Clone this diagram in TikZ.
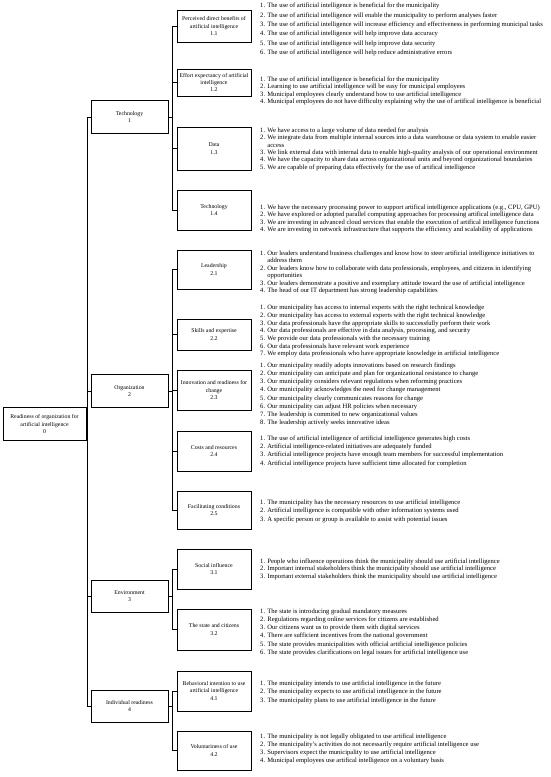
\documentclass[tikz,border=0pt]{standalone}
\usepackage{fontspec}
\setmainfont{Liberation Serif}
\begin{document}
\begin{tikzpicture}[x=1pt,y=-1pt,
  box/.style={draw=black, line width=0.6pt, align=center, inner sep=0pt, font=\fontsize{5.8}{7.4}\selectfont},
  lvtwo/.style={box, minimum width=74pt},
  lvone/.style={box, minimum width=77pt},
  items/.style={anchor=north west, inner sep=0pt, align=left, font=\fontsize{6.6}{#1}\selectfont},
  conn/.style={line width=0.6pt}]
\useasboundingbox (0,0) rectangle (550,777);

% root and level one
\node[box, minimum width=83pt, minimum height=33pt] (r0) at (44.5,424) {Readiness of organization for\\artificial intelligence\\0};
\node[lvone, minimum height=33pt] (t1) at (129.5,117) {Technology\\1};
\node[lvone, minimum height=33pt] (t2) at (129.5,391) {Organization\\2};
\node[lvone, minimum height=32pt] (t3) at (129.5,596) {Environment\\3};
\node[lvone, minimum height=32pt] (t4) at (129.5,706) {Individual readiness\\4};

% level two
\node[lvtwo, minimum height=32pt] (b11) at (214,26) {Perceived direct benefits of\\artificial intelligence\\1.1};
\node[lvtwo, minimum height=27pt] (b12) at (214,82.5) {Effort expectancy of artificial\\intelligence\\1.2};
\node[lvtwo, minimum height=43pt] (b13) at (214,148.5) {Data\\1.3};
\node[lvtwo, minimum height=40pt] (b14) at (214,210) {Technology\\1.4};
\node[lvtwo, minimum height=39pt] (b21) at (214,269.5) {Leadership\\2.1};
\node[lvtwo, minimum height=31pt] (b22) at (214,334.5) {Skills and expertise\\2.2};
\node[lvtwo, minimum height=40pt] (b23) at (214,390) {Innovation and readiness for\\change\\2.3};
\node[lvtwo, minimum height=40pt] (b24) at (214,451) {Costs and resources\\2.4};
\node[lvtwo, minimum height=38pt] (b25) at (214,510) {Facilitating conditions\\2.5};
\node[lvtwo, minimum height=40pt] (b31) at (214,569) {Social influence\\3.1};
\node[lvtwo, minimum height=41pt] (b32) at (214,629.5) {The state and citizens\\3.2};
\node[lvtwo, minimum height=40pt] (b41) at (214,691) {Behavioral intention to use\\artificial intelligence\\4.1};
\node[lvtwo, minimum height=39pt] (b42) at (214,750.5) {Voluntariness of use\\4.2};

% item lists
\node[items=9.4] (i11) at (260,2.8) {1. The use of artificial intelligence is beneficial for the municipality\\
2. The use of artificial intelligence will enable the municipality to perform analyses faster\\
3. The use of artificial intelligence will increase efficiency and effectiveness in performing municipal tasks\\
4. The use of artificial intelligence will help improve data accuracy\\
5. The use of artificial intelligence will help improve data security\\
6. The use of artificial intelligence will help reduce administrative errors};
\node[items=7.4] (i12) at (260,76.5) {1. The use of artificial intelligence is beneficial for the municipality\\
2. Learning to use artificial intelligence will be easy for municipal employees\\
3. Municipal employees clearly understand how to use artificial intelligence\\
4. Municipal employees do not have difficulty explaining why the use of artifical intelligence is beneficial};
\node[items=7.4] (i13) at (260,127.5) {1. We have access to a large volume of data needed for analysis\\
2. We integrate data from multiple internal sources into a data warehouse or data system to enable easier\\
\phantom{2. }access\\
3. We link external data with internal data to enable high-quality analysis of our operational environment\\
4. We have the capacity to share data across organizational units and beyond organizational boundaries\\
5. We are capable of preparing data effectively for the use of artifical intelligence};
\node[items=7.4] (i14) at (260,204.5) {1. We have the necessary processing power to support artifical intelligence applications (e.g., CPU, GPU)\\
2. We have explored or adopted parallel computing approaches for processing artifical intelligence data\\
3. We are investing in advanced cloud services that enable the execution of artifical intelligence functions\\
4. We are investing in network infrastructure that supports the efficiency and scalability of applications};
\node[items=7.5] (i21) at (260,250.2) {1. Our leaders understand business challenges and know how to steer artificial intelligence initiatives to\\
\phantom{1. }address them\\
2. Our leaders know how to collaborate with data professionals, employees, and citizens in identifying\\
\phantom{2. }opportunities\\
3. Our leaders demonstrate a positive and exemplary attitude toward the use of artificial intelligence\\
4. The head of our IT department has strong leadership capabilities};
\node[items=7.7] (i22) at (260,305) {1. Our municipality has access to internal experts with the right technical knowledge\\
2. Our municipality has access to external experts with the right technical knowledge\\
3. Our data professionals have the appropriate skills to successfully perform their work\\
4. Our data professionals are effective in data analysis, processing, and security\\
5. We provide our data professionals with the necessary training\\
6. Our data professionals have relevant work experience\\
7. We employ data professionals who have appropriate knowledge in artificial intelligence};
\node[items=8.2] (i23) at (260,362.5) {1. Our municipality readily adopts innovations based on research findings\\
2. Our municipality can anticipate and plan for organizational resistance to change\\
3. Our municipality considers relevant regulations when reforming practices\\
4. Our municipality acknowledges the need for change management\\
5. Our municipality clearly communicates reasons for change\\
6. Our municipality can adjust HR policies when necessary\\
7. The leadership is commited to new organizational values\\
8. The leadership actively seeks innovative ideas};
\node[items=8.3] (i24) at (260,435.5) {1. The use of artificial intelligence of artificial intelligence generates high costs\\
2. Artificial intelligence-related initiatives are adequately funded\\
3. Artificial intelligence projects have enough team members for successful implementation\\
4. Artificial intelligence projects have sufficient time allocated for completion};
\node[items=8.5] (i25) at (260,499.5) {1. The municipality has the necessary resources to use artificial intelligence\\
2. Artificial intelligence is compatible with other information systems used\\
3. A specific person or group is available to assist with potential issues};
\node[items=7.5] (i31) at (260,558.5) {1. People who influence operations think the municipality should use artificial intelligence\\
2. Important internal stakeholders think the municipality should use artificial intelligence\\
3. Important external stakeholders think the municipality should use artificial intelligence};
\node[items=8.2] (i32) at (260,608.5) {1. The state is introducing gradual mandatory measures\\
2. Regulations regarding online services for citizens are established\\
3. Our citizens want us to provide them with digital services\\
4. There are sufficient incentives from the national government\\
5. The state provides municipalities with official artificial intelligence policies\\
6. The state provides clarifications on legal issues for artificial intelligence use};
\node[items=8.5] (i41) at (260,680.5) {1. The municipality intends to use artificial intelligence in the future\\
2. The municipality expects to use artificial intelligence in the future\\
3. The municipality plans to use artificial intelligence in the future};
\node[items=8] (i42) at (260,733.5) {1. The municipality is not legally obligated to use artifical intelligence\\
2. The municipality's activities do not necessarily require artificial intelligence use\\
3. Supervisors expect the municipality to use artificial intelligence\\
4. Municipal employees use artifical intelligence on a voluntary basis};

% connectors: root to level one
\draw[conn] (r0.east) -- ([xshift=-3pt]r0.east -| t1.west);
\draw[conn] (t1.west) -- ++(-3,0) |- (t4.west);
\draw[conn] (t2.west) -- ++(-3,0);
\draw[conn] (t3.west) -- ++(-3,0);

% level one to level two
\draw[conn] (t1.east) -- ([xshift=-4pt]t1.east -| b11.west);
\draw[conn] (b11.west) -- ++(-4,0) |- (b14.west);
\draw[conn] (b12.west) -- ++(-4,0);
\draw[conn] (b13.west) -- ++(-4,0);

\draw[conn] (t2.east) -- ([xshift=-4pt]t2.east -| b21.west);
\draw[conn] (b21.west) -- ++(-4,0) |- (b25.west);
\draw[conn] (b22.west) -- ++(-4,0);
\draw[conn] (b23.west) -- ++(-4,0);
\draw[conn] (b24.west) -- ++(-4,0);

\draw[conn] (t3.east) -- ([xshift=-4pt]t3.east -| b31.west);
\draw[conn] (b31.west) -- ++(-4,0) |- (b32.west);

\draw[conn] (t4.east) -- ([xshift=-4pt]t4.east -| b41.west);
\draw[conn] (b41.west) -- ++(-4,0) |- (b42.west);
\end{tikzpicture}
\end{document}
